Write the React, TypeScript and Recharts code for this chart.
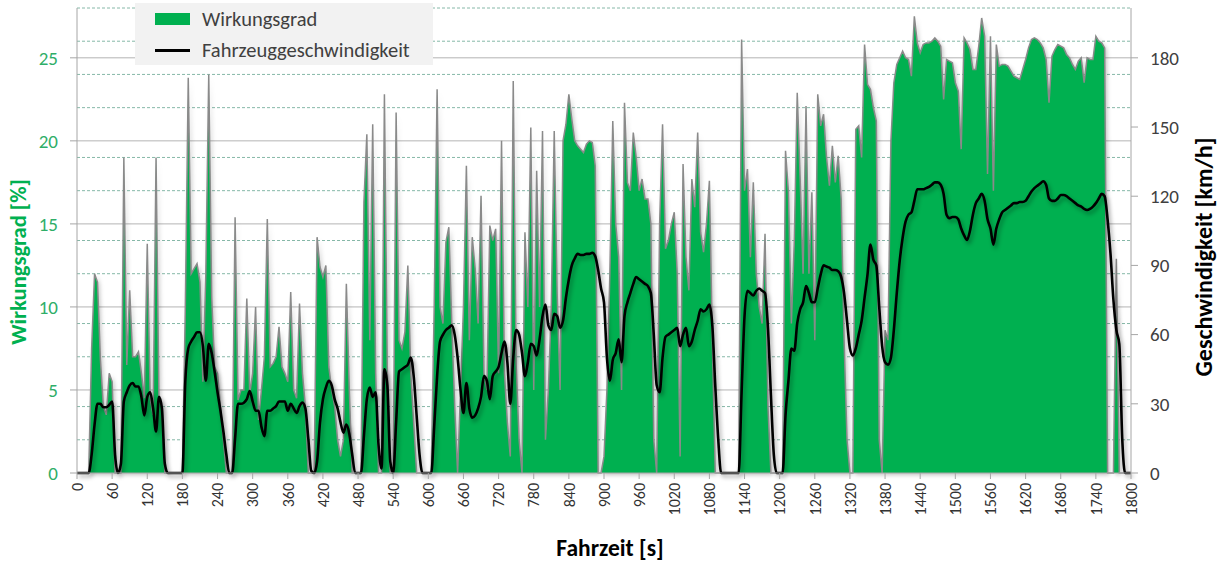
import { ComposedChart, Area, Line, XAxis, YAxis, CartesianGrid } from "recharts";

// sample spacing of the measurement rows, seconds
const STEP = 5;

// Wirkungsgrad [%], one row per minute (12 samples of 5 s)
const efficiency = [
    0, 0, 0, 0, 0, 7.5, 12, 11.5, 6.8, 4, 3.5, 6,
    5.5, 0, 0, 0, 19, 6.5, 11, 7, 7, 7.3, 6, 4.5,
    13.8, 4.5, 3.5, 19, 4.4, 4, 0, 0, 0, 0, 0, 0,
    0, 10, 23.8, 12, 12.3, 12.6, 11.5, 5.5, 12, 24, 10.6, 6.4,
    6, 4, 2, 0, 0, 0, 15.4, 4.4, 5, 5, 10.5, 4.8,
    6, 10, 3.2, 5, 7, 15.3, 6.4, 6.6, 7, 8.8, 6.4, 6,
    5.5, 10.9, 5, 4.5, 10.2, 6, 4, 0, 0, 0, 14.2, 12.4,
    11.8, 12.5, 6.4, 5, 4, 2, 1, 2, 11.4, 5, 0, 0,
    0, 0, 16.3, 20.4, 8, 21, 6, 0, 0, 22.8, 6, 0,
    0, 21.7, 8, 7.5, 8.5, 12.5, 6, 3, 0, 0, 0, 0,
    0, 0, 10, 23.1, 10, 9, 13.9, 14.8, 9, 4, 0, 5,
    10, 18.5, 8, 14.2, 12.3, 9, 16.7, 6, 5, 14.9, 14, 14.7,
    6, 20, 6, 3, 1, 23.6, 6.5, 2, 0, 14.5, 10, 20.8,
    5, 18.2, 10, 20.6, 2, 5, 10, 20.6, 10.8, 5, 20, 21,
    22.8, 21.3, 20, 19.7, 19.5, 19.3, 19.8, 20, 19.9, 18.5, 0, 0,
    1, 5, 12, 21.2, 15, 13, 5, 22.3, 17.5, 17, 20.5, 19,
    17, 17.7, 16.5, 16.5, 15, 2, 0, 15, 21, 13.5, 14, 15,
    15.7, 12, 1, 18.6, 13, 11, 17.7, 16, 20.5, 14.5, 13.3, 15,
    17.6, 8, 0, 0, 0, 0, 0, 0, 0, 0, 0, 26.1,
    17, 18.3, 13, 17.5, 12, 10, 9, 14.4, 4, 0, 0, 0,
    0, 0, 19.4, 16.9, 9, 14, 22.9, 17.7, 12, 22.1, 12, 16.9,
    8, 22.8, 20.9, 21.6, 19, 17.3, 19.7, 17.5, 19.1, 16.5, 8, 2,
    0, 0, 20.7, 20.9, 19, 25.8, 23.4, 23.1, 22, 21.2, 2, 0,
    8.6, 8, 20, 23.5, 24.6, 25, 25.4, 25, 24.9, 23.9, 27.5, 25.9,
    25.3, 25.8, 25.9, 25.9, 26, 26.2, 26, 25.7, 22.5, 24.9, 24.8, 24.7,
    23.5, 23, 19.5, 26.2, 25.9, 25.5, 24.3, 24.3, 25.7, 27.4, 26.3, 18,
    26.3, 17, 25.8, 24.5, 24.6, 24.6, 24.5, 24.2, 23.9, 23.8, 23.7, 24.3,
    24.9, 25.6, 26.1, 26.2, 26.1, 25.9, 25.6, 24.9, 22.3, 25.1, 25.5, 25.8,
    25.7, 25.6, 25.2, 25, 24.6, 24.3, 24.8, 25, 23.5, 25, 24.9, 24.9,
    26.3, 26, 25.9, 25.6, 0, 0, 0, 12.9, 0, 0, 0, 0,
    0,
];

// Fahrzeuggeschwindigkeit [km/h], same sampling
const speed = [
    0, 0, 0, 0, 0, 8, 21, 30, 30, 28.5, 28.5, 29.5,
    31, 8, 0, 4, 31, 35, 38, 39, 37.5, 37.5, 33, 25,
    33, 35, 28, 18, 33, 28, 4, 0, 0, 0, 0, 0,
    0, 40, 54, 57, 59, 61, 61, 55, 40, 56, 52, 44,
    35, 27, 18, 8, 0, 0, 15, 30, 30, 30.5, 32, 35.5,
    31, 27, 27, 20, 16, 27, 27, 28, 29, 31, 31, 31,
    27, 30, 28, 26, 29, 30.5, 28, 15, 1, 0, 5, 22,
    32, 37, 40, 38, 32, 28, 22, 17.5, 21, 17, 8, 0,
    0, 0, 16, 32, 37, 33, 35, 12, 2, 45, 38, 5,
    0, 22, 44, 45, 46, 47, 50, 42, 25, 8, 0, 0,
    0, 0, 20, 42, 57, 60, 62, 63, 64, 60, 50, 36,
    26, 39, 28, 24, 25, 28, 33, 42, 40, 32, 42, 44,
    46, 52, 57, 48, 30, 50, 62, 60, 52, 42, 48, 56,
    55, 51, 58, 68, 73, 64, 62, 69, 68, 63, 66, 76,
    84, 90, 93, 95, 94.5, 94.5, 95, 95, 95.5, 94, 88, 80,
    74, 50, 40, 49, 52, 58, 48, 68, 74, 78, 82, 85,
    84, 83, 82, 81, 78, 60, 38, 35, 50, 59, 60, 61,
    62, 63, 55, 60, 63, 55, 57, 62, 66, 71, 70, 71,
    73, 64, 38, 15, 0, 0, 0, 0, 0, 0, 0, 35,
    68, 79, 78, 77, 79, 80, 79, 78, 63, 34, 8, 0,
    0, 0, 25, 40, 54, 53, 65, 71, 74, 81, 78, 74,
    74, 80, 86, 90, 89.5, 89, 88, 88, 87.5, 85, 78, 66,
    54, 51, 54, 60, 66, 76, 86, 99, 92.5, 90, 72, 55,
    48, 47, 50, 62, 78, 92, 102, 109, 112, 113, 118, 123,
    123, 123, 123.5, 124, 125, 126, 126, 125, 121, 112, 110.5, 111,
    111, 110, 106, 103, 101, 105, 112, 117, 119, 121, 118, 110,
    106, 99, 106, 110, 113, 114, 115, 116, 117, 117, 117.5, 117.5,
    118, 120, 122, 123.5, 124.5, 125.5, 126.5, 125, 119, 118, 118, 119,
    120.5, 120.5, 120, 119, 118, 117, 116, 115.5, 114.5, 114, 114.5, 115.5,
    117, 119, 121, 120, 110, 95, 75, 62, 56, 15, 0, 0,
    0,
];

const timeTicks = [
    0, 60, 120, 180, 240, 300, 360, 420, 480, 540, 600, 660, 720, 780, 840, 900,
    960, 1020, 1080, 1140, 1200, 1260, 1320, 1380, 1440, 1500, 1560, 1620, 1680,
    1740, 1800,
];
const effTicks = [0, 5, 10, 15, 20, 25];
const speedTicks = [0, 30, 60, 90, 120, 150, 180];
const effMajorLines = [5, 10, 15, 20, 25];
const effMinorLines = [
    1, 2, 3, 4, 6, 7, 8, 9, 11, 12, 13, 14, 16, 17, 18, 19, 21, 22, 23, 24, 26, 27, 28,
];

const data = speed.map((v, i) => ({ t: i * STEP, speed: v, eff: efficiency[i] }));

const FONT = "Carlito, Lato, 'Open Sans', sans-serif";
const GREEN = "#00b050";
const AXIS = "#a6a6a6";

function TimeTick({ x, y, payload }: any) {
    return (
        <text
            x={x}
            y={y}
            transform={`rotate(-90 ${x} ${y})`}
            textAnchor="end"
            dy="0.36em"
            fontSize={16}
            fill="#333"
            fontFamily={FONT}
        >
            {payload.value}
        </text>
    );
}

export default function App() {
    return (
        <div
            style={{
                position: "absolute",
                left: 0,
                top: 0,
                width: 1220,
                height: 565,
                background: "#fff",
                fontFamily: FONT,
            }}
        >
            <style>{`
                .speed-line .recharts-line-curve { filter: drop-shadow(2px 3px 2px rgba(0,0,0,0.35)); }
                .eff-area .recharts-area-area { filter: drop-shadow(2px 2px 2px rgba(0,0,0,0.25)); }
            `}</style>
            <ComposedChart
                width={1220}
                height={565}
                data={data}
                margin={{ top: 8, right: 0, bottom: 0, left: 0 }}
            >
                <CartesianGrid
                    yAxisId="eff"
                    vertical={false}
                    horizontalValues={effMinorLines}
                    stroke="#86b8a8"
                    strokeDasharray="3 2"
                />
                <CartesianGrid
                    yAxisId="eff"
                    vertical={false}
                    horizontalValues={effMajorLines}
                    stroke="#b4b4b4"
                />
                <XAxis
                    dataKey="t"
                    type="number"
                    domain={[0, 1800]}
                    ticks={timeTicks}
                    interval={0}
                    height={92}
                    tick={<TimeTick />}
                    tickSize={6}
                    tickMargin={4}
                    stroke={AXIS}
                />
                <YAxis
                    yAxisId="eff"
                    domain={[0, 28]}
                    ticks={effTicks}
                    width={77}
                    tickSize={7}
                    tickMargin={12}
                    stroke={AXIS}
                    tick={{ fill: "#2fae68", fontSize: 19, fontFamily: FONT }}
                />
                <YAxis
                    yAxisId="speed"
                    orientation="right"
                    domain={[0, 201.6]}
                    ticks={speedTicks}
                    width={89}
                    tickSize={7}
                    tickMargin={12}
                    stroke={AXIS}
                    tick={{ fill: "#404040", fontSize: 19, fontFamily: FONT }}
                />
                <Area
                    className="eff-area"
                    yAxisId="eff"
                    type="linear"
                    dataKey="eff"
                    fill={GREEN}
                    fillOpacity={1}
                    stroke="#8a8a8a"
                    strokeWidth={1.5}
                    dot={false}
                    activeDot={false}
                    isAnimationActive={false}
                />
                <Line
                    className="speed-line"
                    yAxisId="speed"
                    type="monotone"
                    dataKey="speed"
                    stroke="#000"
                    strokeWidth={2.6}
                    dot={false}
                    activeDot={false}
                    isAnimationActive={false}
                />
            </ComposedChart>

            {/* legend */}
            <div
                style={{
                    position: "absolute",
                    left: 135,
                    top: 3,
                    width: 298,
                    height: 62,
                    background: "#f2f2f2",
                    fontSize: 20.5,
                    color: "#404040",
                }}
            >
                <div style={{ position: "absolute", left: 20, top: 10, width: 35, height: 12, background: GREEN }} />
                <div style={{ position: "absolute", left: 67, top: 2, lineHeight: "28px" }}>Wirkungsgrad</div>
                <div style={{ position: "absolute", left: 20, top: 46, width: 35, height: 3, background: "#000" }} />
                <div style={{ position: "absolute", left: 67, top: 33, lineHeight: "28px" }}>
                    Fahrzeuggeschwindigkeit
                </div>
            </div>

            {/* axis titles */}
            <div
                style={{
                    position: "absolute",
                    left: 18,
                    top: 262,
                    transform: "translate(-50%, -50%) rotate(-90deg)",
                    whiteSpace: "nowrap",
                    fontWeight: 700,
                    fontSize: 22.5,
                    color: GREEN,
                }}
            >
                Wirkungsgrad [%]
            </div>
            <div
                style={{
                    position: "absolute",
                    left: 1203,
                    top: 257,
                    transform: "translate(-50%, -50%) rotate(-90deg)",
                    whiteSpace: "nowrap",
                    fontWeight: 700,
                    fontSize: 24,
                    color: "#000",
                }}
            >
                Geschwindigkeit [km/h]
            </div>
            <div
                style={{
                    position: "absolute",
                    left: 610,
                    top: 548,
                    transform: "translate(-50%, -50%)",
                    whiteSpace: "nowrap",
                    fontWeight: 700,
                    fontSize: 23.5,
                    color: "#000",
                }}
            >
                Fahrzeit [s]
            </div>
        </div>
    );
}
